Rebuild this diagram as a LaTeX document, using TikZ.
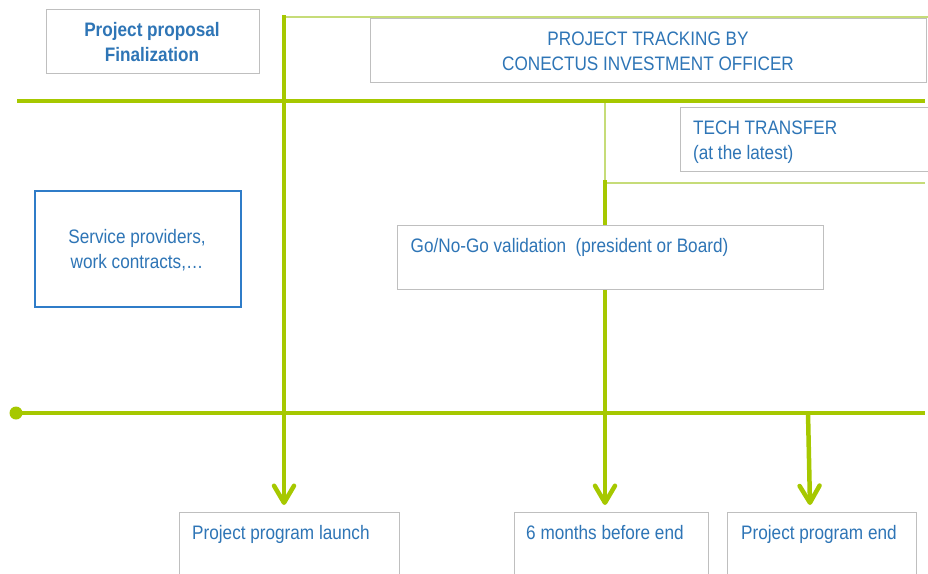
\documentclass[tikz,border=0pt]{standalone}
\usepackage{fontspec}
\setmainfont[FakeStretch=0.88]{Liberation Sans}
\usetikzlibrary{arrows.meta}
\definecolor{lime}{RGB}{166,200,0}
\definecolor{palelime}{RGB}{198,220,120}
\definecolor{txtblue}{RGB}{46,117,182}
\definecolor{boxgray}{RGB}{191,191,191}
\definecolor{boxblue}{RGB}{47,124,200}

\begin{document}
\begin{tikzpicture}[x=1pt,y=-1pt,
	box/.style={draw=boxgray,line width=1.1pt,fill=white,inner sep=0pt,anchor=north west},
	txt/.style={text=txtblue,font=\fontsize{19.5}{25}\selectfont,inner sep=0pt},
	trackline/.style={draw=lime,line width=4.5pt},
	thinline/.style={draw=palelime,line width=2pt},
	milestone/.style={trackline,-{Straight Barb[round,length=17pt,width=20pt]}}]
		\useasboundingbox (0,0) rectangle (928,573);
		
		% time axes
		\coordinate (kick) at (284,15);
		\coordinate (kickend) at (284,505);
		\coordinate (trackL) at (286,17);
		\coordinate (trackR) at (928,17);
		\coordinate (phaseL) at (17,101);
		\coordinate (phaseR) at (925,101);
		\coordinate (techtop) at (605,101);
		\coordinate (techfork) at (605,183);
		\coordinate (techR) at (925,183);
		\coordinate (sixstart) at (605,180);
		\coordinate (sixend) at (605,505);
		\coordinate (origin) at (16,413);
		\coordinate (originR) at (925,413);
		\coordinate (endfork) at (808,413);
		\coordinate (endtip) at (810,505);
		
		\draw[thinline] (trackL)--(trackR);
		\draw[thinline] (techtop)--(techfork)--(techR);
		\draw[trackline] (phaseL)--(phaseR);
		\draw[trackline] (origin)--(originR);
		\fill[lime] (origin) circle (6.5pt);
		\draw[milestone] (kick)--(kickend);
		\draw[milestone] (sixstart)--(sixend);
		\draw[milestone] (endfork)--(endtip);
		
		% boxes
		\node[box,minimum width=213.5pt,minimum height=64.5pt] (proposal) at (45.5,8.5) {};
		\node[box,minimum width=556pt,minimum height=64pt] (tracking) at (370,18) {};
		\node[box,minimum width=252pt,minimum height=64pt] (techtransfer) at (680,107) {};
		\node[box,draw=boxblue,line width=1.6pt,minimum width=206pt,minimum height=116pt] (providers) at (34,190) {};
		\node[box,minimum width=426pt,minimum height=64pt] (gonogo) at (397,225) {};
		\node[box,minimum width=220.5pt,minimum height=70pt] (launch) at (178.5,511.5) {};
		\node[box,minimum width=194pt,minimum height=70pt] (sixmonths) at (513.5,512) {};
		\node[box,minimum width=189pt,minimum height=70pt] (progend) at (727,512) {};
		
		% texts (multi-line nodes sit on their last baseline)
		\node[txt,font=\fontsize{19.5}{25}\bfseries,align=center,anchor=base] (proposaltxt) at (152,61) {Project proposal\\Finalization};
		\node[txt,align=center,anchor=base] (trackingtxt) at (648,70) {PROJECT TRACKING BY\\CONECTUS INVESTMENT OFFICER};
		\node[txt,align=left,anchor=base west] (techtxt) at (693,159) {TECH TRANSFER\\(at the latest)};
		\node[txt,align=center,anchor=base] (providerstxt) at (137,268) {Service providers,\\work contracts,…};
		\node[txt,anchor=base west] (gonogotxt) at (410.5,252) {Go/No-Go validation\ \ (president or Board)};
		\node[txt,anchor=base west] (launchtxt) at (192,539) {Project program launch};
		\node[txt,anchor=base west] (sixtxt) at (526,539) {6 months before end};
		\node[txt,anchor=base west] (endtxt) at (741,539) {Project program end};
	\end{tikzpicture}
\end{document}
